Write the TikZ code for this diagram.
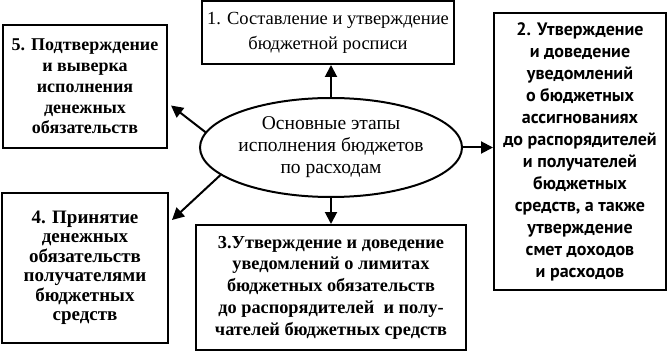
\documentclass[tikz,border=0pt]{standalone}
\usepackage{fontspec}
\setmainfont{Liberation Serif}
\newfontfamily\sansb{PT Sans}
\usetikzlibrary{arrows.meta,shapes.geometric}
\tikzset{
  stagebox/.style={draw=black, line width=2pt, fill=white, align=center, inner sep=2pt},
  centre/.style={draw=black, line width=2pt, ellipse, align=center, inner sep=0pt},
  link/.style={line width=2pt, -{Triangle[length=12pt,width=12pt]}},
}
\begin{document}
\begin{tikzpicture}[x=1pt,y=-1pt]
\useasboundingbox (0,0) rectangle (668,355);
\node[stagebox, minimum width=252pt, minimum height=63pt, font=\fontsize{18.5}{25}\selectfont] (b1) at (328,32.5)
  {1. Составление и утверждение\\бюджетной росписи};
\node[stagebox, minimum width=172pt, minimum height=277pt, font=\sansb\bfseries\fontsize{18}{22}\selectfont] (b2) at (580,151.5)
  {2. Утверждение\\и доведение\\уведомлений\\о бюджетных\\ассигнованиях\\до распорядителей\\и получателей\\бюджетных\\средств, а также\\утверждение\\смет доходов\\и расходов};
\node[stagebox, minimum width=270pt, minimum height=125pt, font=\bfseries\fontsize{18.3}{21.7}\selectfont] (b3) at (331,287.5)
  {3.Утверждение и доведение\\уведомлений о лимитах\\бюджетных обязательств\\до распорядителей\ \ и полу-\\чателей бюджетных средств};
\node[stagebox, minimum width=166pt, minimum height=150pt, font=\bfseries\fontsize{19}{19.5}\selectfont] (b4) at (85,268)
  {4. Принятие\\денежных\\обязательств\\получателями\\бюджетных\\средств};
\node[stagebox, minimum width=164pt, minimum height=123pt, font=\bfseries\fontsize{18}{20.8}\selectfont] (b5) at (85,86.5)
  {5. Подтверждение\\и выверка\\исполнения\\денежных\\обязательств};
\node[centre, minimum width=262pt, minimum height=99pt, font=\fontsize{19.5}{22}\selectfont] (e) at (331,147.5)
  {Основные этапы\\исполнения бюджетов\\по расходам};
\draw[link] (e.north) -- (e.north |- b1.south);
\draw[link] (e.south) -- (e.south |- b3.north);
\draw[link] (e.east) -- (e.east -| b2.west);
\draw[link] (e.173) -- ([xshift=3pt,yshift=-19pt]b5.east);
\draw[link] (e.194) -- ([xshift=3pt]b4.north east |- 0,220);
\end{tikzpicture}
\end{document}
